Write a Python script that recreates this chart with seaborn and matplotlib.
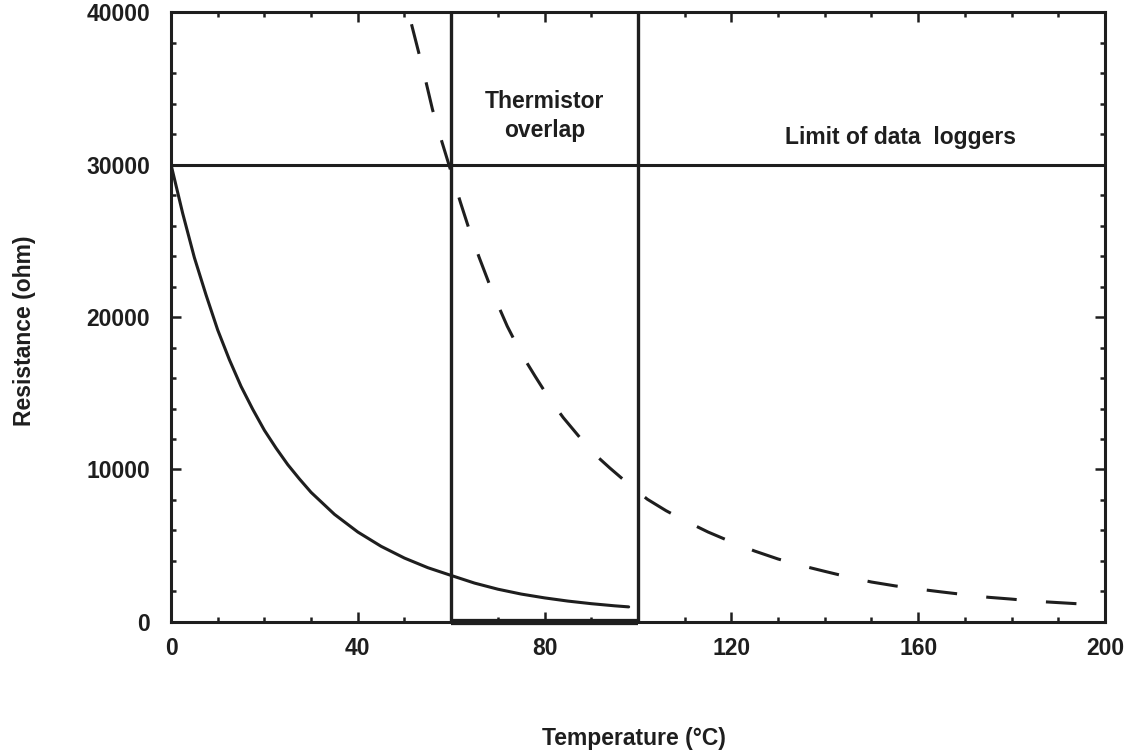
import matplotlib
matplotlib.use('Agg')
import matplotlib.pyplot as plt
import seaborn as sns
from matplotlib.ticker import MultipleLocator

# low-range thermistor (solid curve)
low_temp = [0, 2.5, 5, 7.5, 10, 12.5, 15, 17.5, 20, 22.5, 25, 27.5, 30, 35, 40, 45, 50, 55,
            60, 65, 70, 75, 80, 85, 90, 95, 98]
low_res = [30000, 26800, 23900, 21450, 19150, 17200, 15450, 13950, 12570, 11400, 10320, 9380,
           8500, 7060, 5900, 4960, 4190, 3560, 3050, 2550, 2150, 1830, 1580, 1370, 1200, 1060, 990]

# high-range thermistor (dashed curve)
high_temp = [51.5, 54, 56, 58, 60, 62, 64, 66, 68, 70, 72, 75, 78, 81, 84, 87, 90, 94, 98, 102,
             106, 110, 115, 120, 125, 130, 135, 140, 145, 150, 155, 160, 165, 170, 175, 180, 185,
             190, 195, 200]
high_res = [39200, 36200, 33600, 31500, 29500, 27500, 25600, 23900, 22300, 20800, 19400, 17600,
            16100, 14650, 13400, 12300, 11200, 10090, 9040, 8050, 7300, 6650, 5900, 5250, 4650,
            4130, 3700, 3320, 2950, 2620, 2370, 2160, 1970, 1790, 1620, 1500, 1360, 1270, 1180, 1100]

# reference lines
overlap_bounds = [60, 100]
logger_limit = 30000

sns.set_theme(style='ticks')
plt.rcParams['font.family'] = ['Liberation Sans', 'DejaVu Sans']
plt.rcParams['font.weight'] = 'bold'
plt.rcParams['axes.labelweight'] = 'bold'
ink = '#1e1e1e'
fs = 16.5

fig = plt.figure(figsize=(11.34, 7.53), dpi=100)
ax = fig.add_axes([0.1508, 0.174, 0.8236, 0.810])

sns.lineplot(x=low_temp, y=low_res, ax=ax, color=ink, lw=2.2)
sns.lineplot(x=high_temp, y=high_res, ax=ax, color=ink, lw=2.2, linestyle=(0, (10, 9.6)))

for xb in overlap_bounds:
    ax.axvline(xb, color=ink, lw=2.4)
ax.axhline(logger_limit, color=ink, lw=2.2)
ax.hlines(0, overlap_bounds[0], overlap_bounds[1], color=ink, lw=4.5, clip_on=False)

ax.set_xlim(0, 200)
ax.set_ylim(0, 40000)
ax.xaxis.set_major_locator(MultipleLocator(40))
ax.xaxis.set_minor_locator(MultipleLocator(10))
ax.yaxis.set_major_locator(MultipleLocator(10000))
ax.yaxis.set_minor_locator(MultipleLocator(2000))
ax.tick_params(which='both', direction='in', top=True, right=True, color=ink, width=1.8,
               labelsize=fs, labelcolor=ink)
ax.tick_params(which='major', length=7)
ax.tick_params(which='minor', length=3.5)
ax.tick_params(axis='y', pad=15)
ax.tick_params(axis='x', pad=11)
for s in ax.spines.values():
    s.set_linewidth(2.2)
    s.set_color(ink)

ax.text(80, 33700, 'Thermistor', ha='center', va='baseline', fontsize=fs, color=ink)
ax.text(80, 31800, 'overlap', ha='center', va='baseline', fontsize=fs, color=ink)
ax.text(156.3, 31350, 'Limit of data  loggers', ha='center', va='baseline', fontsize=fs, color=ink)

ax.set_xlabel('Temperature (°C)', fontsize=fs, color=ink, fontweight='bold')
ax.set_ylabel('Resistance (ohm)', fontsize=fs, color=ink, fontweight='bold')
ax.xaxis.set_label_coords(0.496, -0.172)
ax.yaxis.set_label_coords(-0.145, 0.477)

fig.savefig('out.png', dpi=100)
